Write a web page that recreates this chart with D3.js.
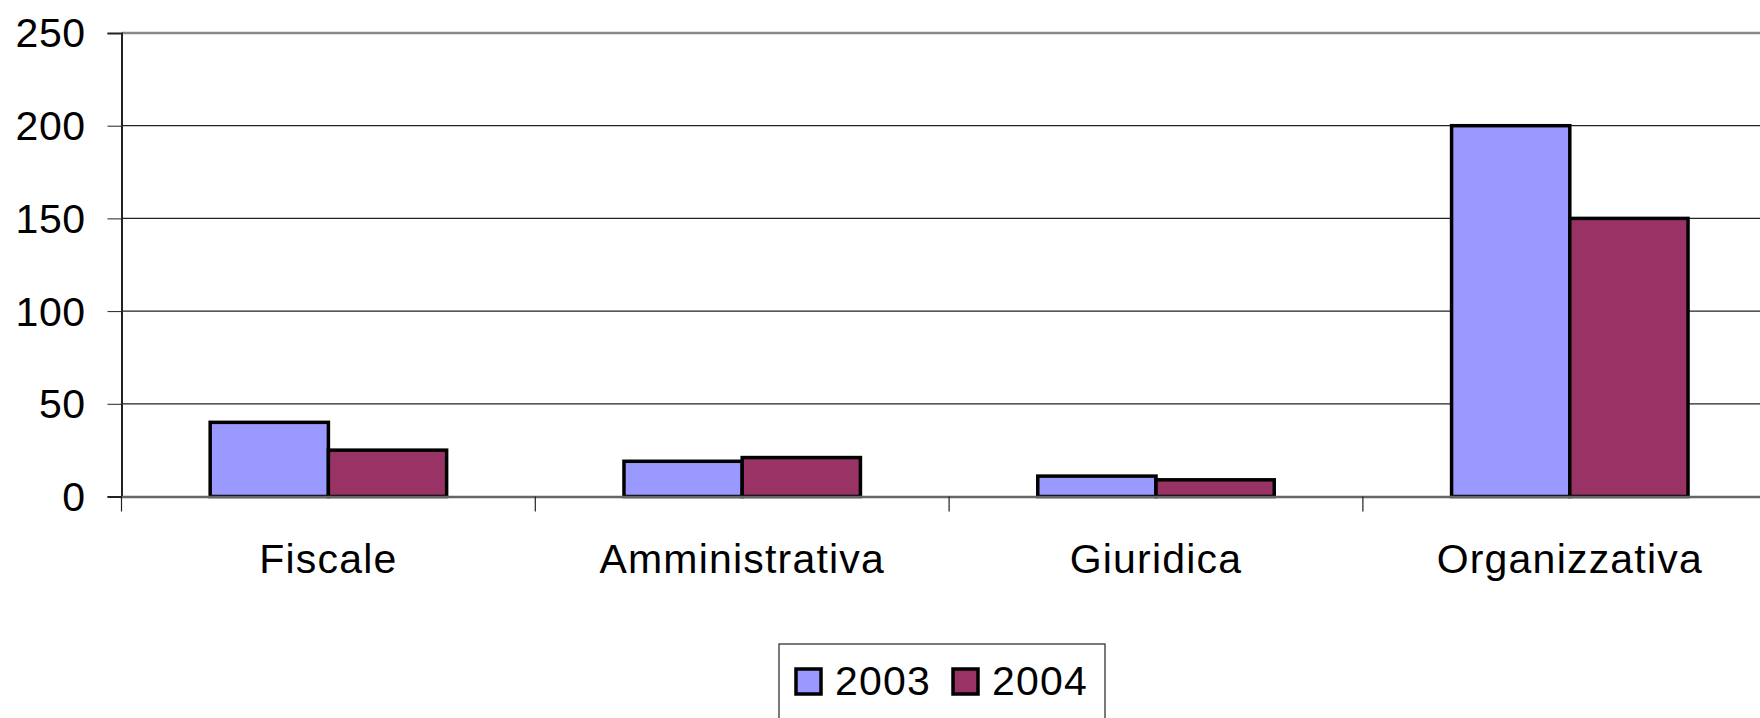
<!DOCTYPE html>
<html>
<head>
<meta charset="utf-8">
<script src="https://cdn.jsdelivr.net/npm/d3@7"></script>
<style>
  html, body { margin: 0; padding: 0; background: #fff; }
  svg { display: block; font-family: "Liberation Sans", Arial, sans-serif; }
</style>
</head>
<body>
<svg></svg>
<script>
const width = 1760;
const height = 718;
const plotLeft = 121.5;
const plotTop = 33;
const plotBottom = 496.5;
const bandStep = 413.8;

const categories = ['Fiscale', 'Amministrativa', 'Giuridica', 'Organizzativa'];
const series = ['2003', '2004'];
const values2003 = [40, 19, 11, 200];
const values2004 = [25, 21, 9, 150];
const yTicks = [0, 50, 100, 150, 200, 250];
const colors = ['#9999ff', '#993366'];

const svg = d3.select('svg')
  .attr('width', width)
  .attr('height', height);

const x0 = d3.scaleBand()
  .domain(categories)
  .range([plotLeft, plotLeft + bandStep * categories.length])
  .padding(0);

const x1 = d3.scaleBand()
  .domain(series)
  .range([0, x0.bandwidth()])
  .paddingInner(0)
  .paddingOuter(0.75);

const yScale = d3.scaleLinear()
  .domain([0, 250])
  .range([plotBottom, plotTop]);

// gridlines
svg.append('g')
  .selectAll('line')
  .data(yTicks.filter(d => d > 0 && d < 250))
  .join('line')
    .attr('x1', plotLeft)
    .attr('x2', width)
    .attr('y1', d => yScale(d))
    .attr('y2', d => yScale(d))
    .attr('stroke', '#222')
    .attr('stroke-width', 1.2);

// plot area top border
svg.append('line')
  .attr('x1', plotLeft).attr('x2', width)
  .attr('y1', yScale(250)).attr('y2', yScale(250))
  .attr('stroke', '#888').attr('stroke-width', 2.5);

// y axis
const yAxis = d3.axisLeft(yScale)
  .tickValues(yTicks)
  .tickSize(14)
  .tickPadding(22)
  .tickFormat(d3.format('d'));

const yg = svg.append('g')
  .attr('transform', `translate(${plotLeft}, 0)`)
  .call(yAxis);
yg.select('.domain').attr('stroke', '#222').attr('stroke-width', 2);
yg.selectAll('.tick line').attr('stroke', '#222');
yg.selectAll('.tick text')
  .attr('font-size', 41)
  .attr('fill', '#000')
  .attr('letter-spacing', 0.5)
  .attr('dy', '0.34em')
  .style('font-family', '"Liberation Sans", Arial, sans-serif');

// bars
const rows = categories.map((c, i) => ({ c, vals: [values2003[i], values2004[i]] }));

svg.append('g')
  .selectAll('g')
  .data(rows)
  .join('g')
    .attr('transform', d => `translate(${x0(d.c)}, 0)`)
  .selectAll('rect')
  .data(d => d.vals.map((v, i) => ({ key: series[i], v, i })))
  .join('rect')
    .attr('x', d => x1(d.key))
    .attr('y', d => yScale(d.v))
    .attr('width', x1.bandwidth())
    .attr('height', d => plotBottom - yScale(d.v))
    .attr('fill', d => colors[d.i])
    .attr('stroke', '#000')
    .attr('stroke-width', 3.5);

// x axis
const xAxis = d3.axisBottom(x0)
  .tickSize(0)
  .tickPadding(47);

const xg = svg.append('g')
  .attr('transform', `translate(0, ${plotBottom})`)
  .call(xAxis);
xg.select('.domain').attr('stroke', '#666').attr('stroke-width', 2.5);
xg.selectAll('.tick text')
  .attr('font-size', 41)
  .attr('fill', '#000')
  .attr('letter-spacing', 1.2)
  .style('font-family', '"Liberation Sans", Arial, sans-serif');

// category separator ticks
svg.append('g')
  .selectAll('line')
  .data(categories)
  .join('line')
    .attr('x1', d => x0(d))
    .attr('x2', d => x0(d))
    .attr('y1', plotBottom)
    .attr('y2', plotBottom + 15)
    .attr('stroke', '#222')
    .attr('stroke-width', 1.2);

// legend
const legend = svg.append('g').attr('transform', 'translate(779, 644)');
legend.append('rect')
  .attr('x', 0).attr('y', 0)
  .attr('width', 326).attr('height', 100)
  .attr('fill', '#fff')
  .attr('stroke', '#222')
  .attr('stroke-width', 1.2);

const items = legend.selectAll('g.item')
  .data(series)
  .join('g')
    .attr('class', 'item')
    .attr('transform', (d, i) => `translate(${17 + i * 157}, 0)`);

items.append('rect')
  .attr('x', 0).attr('y', 25)
  .attr('width', 25).attr('height', 25)
  .attr('fill', (d, i) => colors[i])
  .attr('stroke', '#000')
  .attr('stroke-width', 3.5);

items.append('text')
  .attr('x', 39)
  .attr('y', 51)
  .attr('font-size', 41)
  .attr('letter-spacing', 1.2)
  .text(d => d);
</script>
</body>
</html>
